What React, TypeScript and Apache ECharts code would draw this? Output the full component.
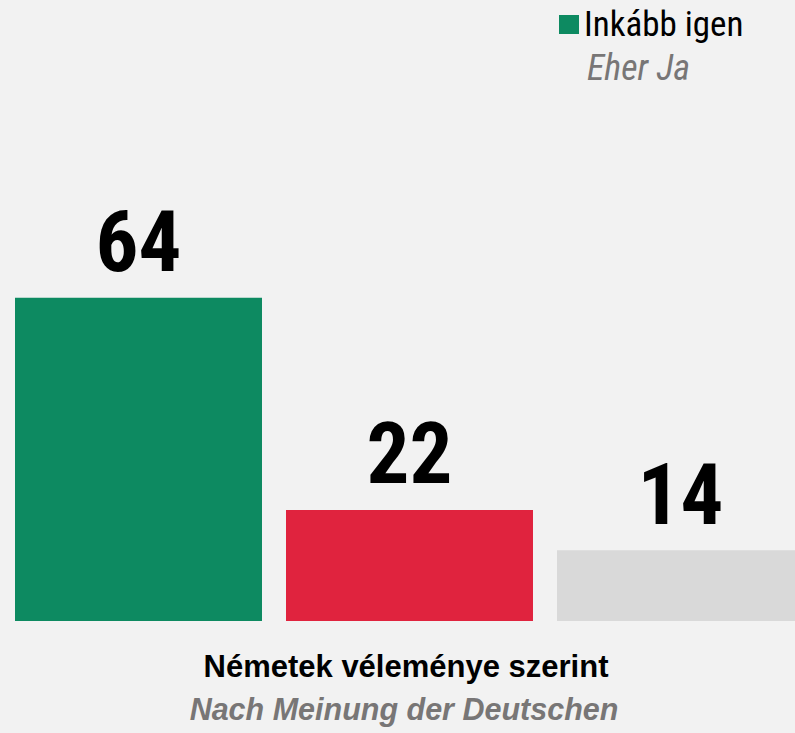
import React, { useEffect, useRef } from "react";
import * as echarts from "echarts";

const categories = ["Inkább igen", "Inkább nem", "Nem tudja"];
const values = [64, 22, 14];
const barColors = ["#0d8a61", "#e0233e", "#d9d9d9"];
const legendMain = "Inkább igen";
const legendSub = "Eher Ja";
const footerMain = "Németek véleménye szerint";
const footerSub = "Nach Meinung der Deutschen";

const NARROW = "'Liberation Sans Narrow', 'Arial Narrow', 'Roboto Condensed', 'Liberation Sans', Arial, sans-serif";
const SANS = "'Liberation Sans', Arial, Helvetica, sans-serif";

export default function App() {
  const ref = useRef<HTMLDivElement>(null);
  useEffect(() => {
    if (!ref.current) return;
    const chart = echarts.init(ref.current, null, { renderer: "svg" });
    chart.setOption({
      animation: false,
      backgroundColor: "#f2f2f2",
      grid: { left: 3, right: 0, top: 116, bottom: 112, containLabel: false },
      xAxis: {
        type: "category",
        data: categories,
        axisLine: { show: false },
        axisTick: { show: false },
        axisLabel: { show: false },
      },
      yAxis: {
        type: "value",
        min: 0,
        max: 100,
        show: false,
        splitLine: { show: false },
      },
      legend: {
        show: true,
        data: [{ name: legendMain, icon: "rect" }],
        left: 559,
        top: 7,
        padding: 0,
        itemWidth: 20,
        itemHeight: 19,
        textStyle: { fontFamily: NARROW, fontSize: 35, color: "#000" },
        selectedMode: false,
      },
      series: [
        {
          name: legendMain,
          type: "bar",
          barCategoryGap: "8.86%",
          data: values.map((v, i) => ({ value: v, itemStyle: { color: barColors[i] } })),
          itemStyle: { color: barColors[0] },
          label: {
            show: true,
            position: "top",
            distance: 13,
            fontFamily: NARROW,
            fontWeight: "bold",
            fontSize: 85,
            color: "#000",
          },
        },
      ],
      graphic: [
        {
          type: "text",
          x: 587,
          y: 50,
          style: { text: legendSub, fontFamily: NARROW, fontStyle: "italic", fontSize: 36, fill: "#787676" },
        },
        {
          type: "text",
          x: 406,
          y: 651,
          style: { text: footerMain, textAlign: "center", fontFamily: SANS, fontWeight: "bold", fontSize: 31, fill: "#000" },
        },
        {
          type: "text",
          x: 404,
          y: 694,
          style: { text: footerSub, textAlign: "center", fontFamily: SANS, fontWeight: "bold", fontStyle: "italic", fontSize: 30.5, fill: "#787676" },
        },
      ],
    });
    return () => chart.dispose();
  }, []);
  return (
    <div
      ref={ref}
      style={{ position: "fixed", left: 0, top: 0, width: 816, height: 733 }}
    />
  );
}
